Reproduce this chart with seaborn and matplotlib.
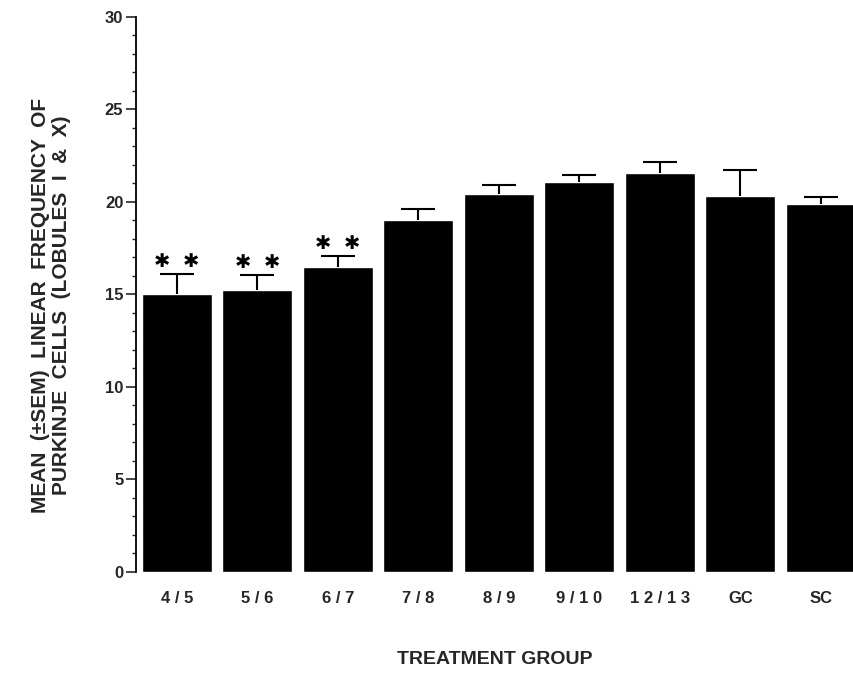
import numpy as np
import matplotlib
matplotlib.use('Agg')
import matplotlib.pyplot as plt
import seaborn as sns
from matplotlib.ticker import MultipleLocator

# data
groups = ["4 / 5", "5 / 6", "6 / 7", "7 / 8", "8 / 9", "9 / 1 0", "1 2 / 1 3", "GC", "SC"]
means = [15.0, 15.25, 16.5, 19.0, 20.4, 21.1, 21.55, 20.3, 19.9]
sem = [1.1, 0.8, 0.6, 0.6, 0.5, 0.35, 0.6, 1.4, 0.35]
significant = [True, True, True, False, False, False, False, False, False]

sns.set_style("white")
plt.rcParams['font.family'] = ['Liberation Sans', 'DejaVu Sans']
plt.rcParams['font.weight'] = 'bold'

fig = plt.figure(figsize=(8.54, 6.79), dpi=100)
ax = fig.add_axes([0.159, 0.158, 0.841, 0.817])

sns.barplot(x=groups, y=means, color="black", width=0.87, errorbar=None,
            saturation=1, ax=ax)
eb = ax.errorbar(np.arange(len(groups)), means, yerr=[np.zeros(len(sem)), sem],
                 fmt="none", ecolor="black", elinewidth=1.5, capsize=12, capthick=1.5)
# only the upper cap is drawn in the original
eb[1][0].set_visible(False)

# significance stars
for i, (m, s, sig) in enumerate(zip(means, sem, significant)):
    if sig:
        for dx in (-0.18, 0.18):
            ax.text(i + dx, m + s + 0.65, "✱", ha="center", va="center",
                    fontsize=14, family="DejaVu Sans", color="black")

ax.set_ylim(0, 30)
ax.set_xlim(-0.51, 8.41)
ax.yaxis.set_major_locator(MultipleLocator(5))
ax.yaxis.set_minor_locator(MultipleLocator(1))
ax.tick_params(axis="y", which="major", direction="out", length=7, width=1.2,
               left=True, labelsize=12, pad=2)
ax.tick_params(axis="y", which="minor", direction="out", length=3, width=1,
               left=True)
ax.tick_params(axis="x", length=0, labelsize=12, pad=14)
for lab in ax.get_xticklabels() + ax.get_yticklabels():
    lab.set_fontweight("bold")

for side in ["top", "right", "bottom"]:
    ax.spines[side].set_visible(False)
ax.spines["left"].set_color("black")
ax.spines["left"].set_linewidth(1.3)

ax.set_xlabel("TREATMENT GROUP", fontsize=14, fontweight="bold", labelpad=32)
fig.text(51 / 854, 1 - 305 / 679,
         "MEAN  (±SEM)  LINEAR  FREQUENCY  OF\nPURKINJE  CELLS  (LOBULES  I  &  X)",
         rotation=90, ha="center", va="center", multialignment="center",
         fontsize=15, fontweight="bold", linespacing=1.1)

plt.savefig("out.png", dpi=100)
plt.close()
